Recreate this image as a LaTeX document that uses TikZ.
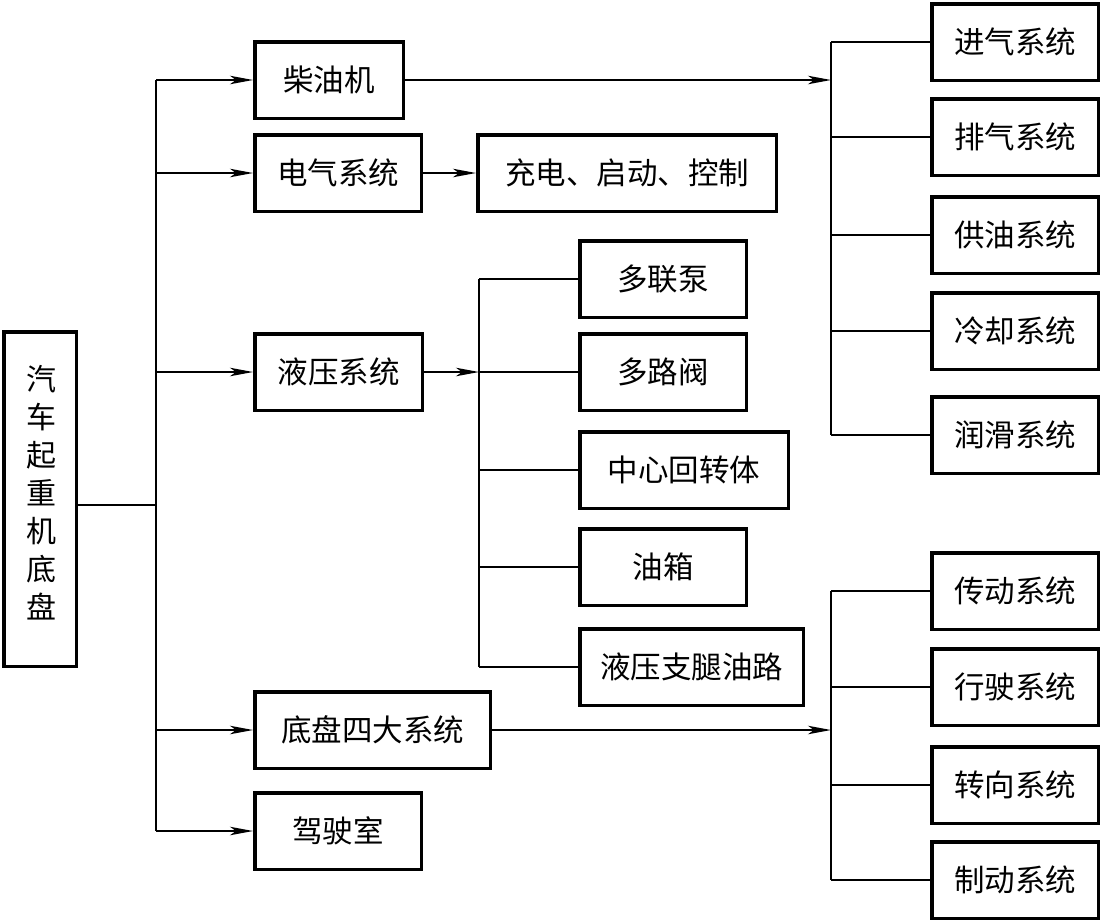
\documentclass[tikz,border=0pt]{standalone}
\usepackage{fontspec}
\newfontfamily\cjk{Noto Sans CJK SC}
\usetikzlibrary{arrows.meta}
\newcommand{\mybox}[6]{%
  \node[boxst, minimum width={#3-#2-3.5}, minimum height={#5-#4-3.5}]
    (#1) at ({(#2+#3)/2},{(#4+#5)/2}) {#6};}
\tikzset{
  boxst/.style={draw, line width=3.5pt, inner sep=0pt, rectangle,
    font=\cjk\fontsize{30.5}{38}\selectfont},
  conn/.style={line width=1.6pt},
  arr/.style={conn, -{Stealth[length=23pt,width=8.5pt,inset=6pt]}}
}
\begin{document}
\begin{tikzpicture}[x=1pt,y=-1pt]
\useasboundingbox (0,0) rectangle (1102,922);
% main
\mybox{main}{2}{78}{330}{668}{}
\node[font=\cjk\fontsize{30}{38}\selectfont, align=center, inner sep=0pt] (maintxt) at (41,493) {汽\\车\\起\\重\\机\\底\\盘};
% left column
\mybox{chaiyou}{253}{405}{40}{120}{柴油机}
\mybox{dianqi}{253}{423}{133}{213}{电气系统}
\mybox{chongdian}{476}{778}{133}{213}{充电、启动、控制}
\mybox{yeya}{253}{424}{332}{412}{液压系统}
\mybox{dipan}{253}{492}{690}{770}{底盘四大系统}
\mybox{jiashi}{253}{423}{791}{871}{驾驶室}
% hydraulic column
\mybox{duolian}{578}{748}{239}{319}{多联泵}
\mybox{duolu}{578}{748}{332}{412}{多路阀}
\mybox{zhongxin}{578}{790}{430}{510}{中心回转体}
\mybox{youxiang}{578}{748}{527}{607}{油箱}
\mybox{zhitui}{578}{805}{627}{707}{液压支腿油路}
% right column
\mybox{jinqi}{930}{1100}{2}{82}{进气系统}
\mybox{paiqi}{930}{1100}{97}{177}{排气系统}
\mybox{gongyou}{930}{1100}{195}{275}{供油系统}
\mybox{lengque}{930}{1100}{291}{371}{冷却系统}
\mybox{runhua}{930}{1100}{395}{475}{润滑系统}
\mybox{chuandong}{930}{1100}{551}{631}{传动系统}
\mybox{xingshi}{930}{1100}{647}{727}{行驶系统}
\mybox{zhuanxiang}{930}{1100}{745}{825}{转向系统}
\mybox{zhidong}{930}{1100}{840}{920}{制动系统}
% coordinates
\coordinate (tx) at (156,0);
\coordinate (tj) at (156,505);
\coordinate (hx) at (479,0);
\coordinate (rx) at (831,0);
% trunk
\draw[conn] (tj -| main.east) -- (tj);
\draw[conn] (chaiyou.west -| tx) -- (jiashi.west -| tx);
\foreach \n in {chaiyou,dianqi,yeya,dipan,jiashi}
  \draw[arr] (\n.west -| tx) -- (\n.west);
% electric
\draw[arr] (dianqi.east) -- (chongdian.west);
% hydraulic
\draw[arr] (yeya.east) -- (yeya.east -| hx);
\draw[conn] (duolian.west -| hx) -- (zhitui.west -| hx);
\foreach \n in {duolian,duolu,zhongxin,youxiang,zhitui}
  \draw[conn] (\n.west -| hx) -- (\n.west);
% engine
\draw[arr] (chaiyou.east) -- (chaiyou.east -| rx);
\draw[conn] (jinqi.west -| rx) -- (runhua.west -| rx);
\foreach \n in {jinqi,paiqi,gongyou,lengque,runhua}
  \draw[conn] (\n.west -| rx) -- (\n.west);
% chassis
\draw[arr] (dipan.east) -- (dipan.east -| rx);
\draw[conn] (chuandong.west -| rx) -- (zhidong.west -| rx);
\foreach \n in {chuandong,xingshi,zhuanxiang,zhidong}
  \draw[conn] (\n.west -| rx) -- (\n.west);
\end{tikzpicture}
\end{document}
